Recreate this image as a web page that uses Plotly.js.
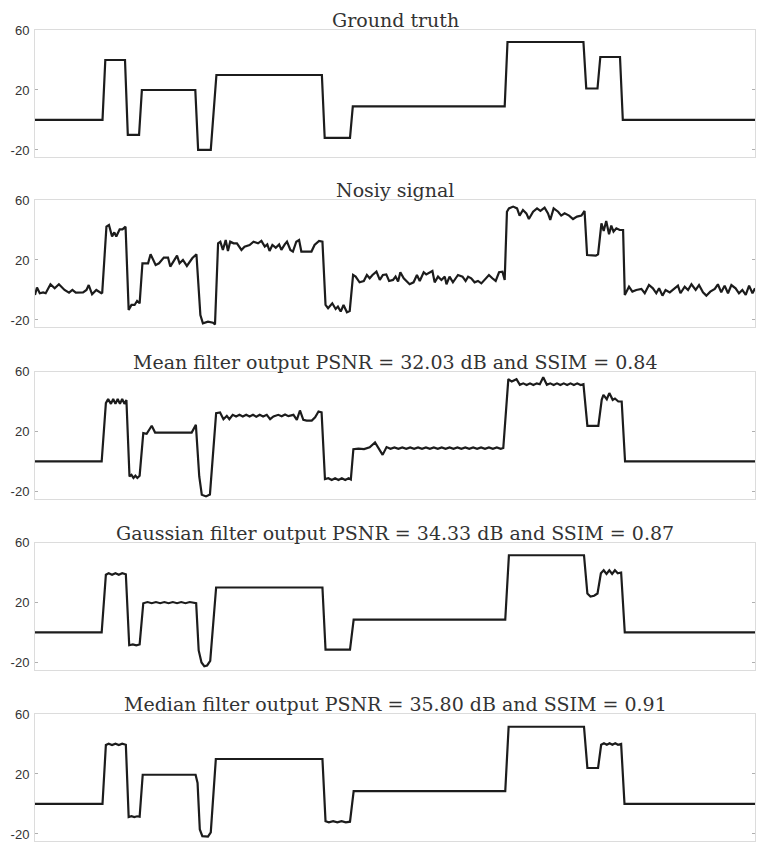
<!DOCTYPE html>
<html>
<head>
<meta charset="utf-8">
<script src="https://cdn.plot.ly/plotly-3.0.1.min.js"></script>
<style>
html,body{margin:0;padding:0;background:#fff;}
#chart{width:757px;height:842px;}
</style>
</head>
<body>
<div id="chart"></div>
<script>
// Panel titles
const titles = [
  "Ground truth",
  "Nosiy signal",
  "Mean filter output PSNR = 32.03 dB and SSIM = 0.84",
  "Gaussian filter output PSNR = 34.33 dB and SSIM = 0.87",
  "Median filter output PSNR = 35.80 dB and SSIM = 0.91"
];
const yTickVals = [-20, 20, 60];
const yTickText = ["-20", "20", "60"];

// Ground truth (vertices, sample index vs amplitude)
const gtX = [0,24,25,32,33,37,38,57,58,62.5,64.5,102,103,112,113,167,168,195,196,200,201,208,209,256];
const gtY = [0,0,40,40,-10,-10,20,20,-20,-20,30,30,-12,-12,9,9,52,52,21,21,42,42,0,0];

// Noisy signal
const noisyX = [0,0.7,1.7,2.9,3.8,5.5,7.0,8.5,10.5,12.1,13.3,14.5,17.1,18.3,19.1,20.3,21.8,23.6,23.9,25.4,26.3,27.4,28.2,28.9,30.1,31.1,32.2,
  33.3,34.3,35.4,36.3,37.2,38.2,40.2,41.1,42.9,44.1,45.8,47.3,48.1,50.5,51.4,52.6,54.0,55.9,57.4,58.8,59.7,61.5,63.3,64.0,
  65.1,65.9,66.8,67.8,68.6,69.4,70.6,71.8,73.4,74.5,76.3,77.7,79.3,80.5,81.7,82.6,83.4,84.4,85.6,86.8,87.6,88.8,89.6,90.8,91.7,92.9,93.9,94.7,96.5,98.3,99.4,101.0,102.2,
  103.3,104.2,105.7,106.9,107.7,108.7,109.7,110.9,111.9,113.1,114.0,115.4,116.9,118.0,119.0,120.0,121.4,122.6,123.7,124.9,125.9,127.3,
  128.2,129.1,129.9,131.1,133.2,134.6,135.8,136.8,138.2,139.1,140.3,141.3,142.1,143.3,144.5,145.7,146.3,147.4,148.6,150.4,152.0,153.1,154.0,155.1,156.3,157.5,158.7,160.2,161.4,162.6,163.8,165.0,166.2,167.0,
  167.8,168.5,170.0,171.4,172.3,173.5,174.7,175.6,177.1,178.5,179.7,181.2,182.4,183.2,184.4,186.0,187.1,188.3,189.9,191.3,192.7,194.3,195.4,
  196.3,197.8,199.4,200.2,201.4,202.2,203.1,204.1,204.9,205.7,206.7,207.9,209.1,
  209.7,211.2,212.4,213.8,215.6,216.8,218.3,219.7,220.9,221.9,223.1,224.2,225.7,227.4,228.6,229.5,231.0,232.2,233.4,234.9,236.1,237.5,238.7,240.1,241.7,242.8,244.0,245.2,246.4,247.6,249.1,250.3,251.5,252.7,253.9,255.1,256];
const noisyY = [-3.3,1.6,-2.2,-1.6,-2.2,3.8,1.1,3.8,0,-1.8,0,-1.8,-1.6,0,3.3,-2.9,0,-2.2,-1.8,42.2,43.3,35.6,38.4,35.6,40.4,40.4,42.2,
  -13.3,-10,-10,-7.3,-8.9,17.8,17.8,23.8,16.7,17.8,21.6,21.6,15.6,22.9,17.8,20,16,21.1,23.8,-16.7,-22.2,-21.1,-21.8,-23,
  31.1,32.2,26.7,33.3,26,32.2,31.1,31.1,26.7,28.9,30,32.2,31.1,32.7,28.9,30.4,26,30,28.2,30.4,26.7,30.4,32.2,26.7,25.6,32.2,33.3,25.6,25.6,25.6,30,32.7,32.2,
  -10,-12.2,-8.9,-12.7,-11.1,-14.4,-10,-14.9,-14,10,8.9,5.1,6,10,7.8,10,12.2,6.7,10,10.4,6,6.7,
  8.9,5.6,11.8,7.8,3.8,5.1,10,6,11.8,10.4,11.8,12.7,5.1,8.9,6.7,8.9,3.8,8.9,5.1,10,8.9,6,8.9,7.8,5.1,6,4.4,7.8,10,7.8,6,11.8,12.2,6.7,
  52.2,54.4,55.6,54.4,49.6,53.3,51.1,47.3,52.2,54.4,52.7,54.9,51.1,46.7,54.4,52.2,49.6,51.1,49.6,47.3,48.9,49.6,52.7,
  23.3,23.3,22.9,23.8,44.4,39.3,46,37.1,42.9,38.9,41.1,40,40,
  -3.3,2.2,-1.1,0,0.7,-2.2,3.3,1.1,-2.2,1.1,-3.8,0,-1.6,1.1,2.9,-2.2,2.2,0,3.8,0,3.3,-1.6,-3.8,-1.1,0.7,3.8,-1.6,2.9,-2.2,3.3,1.1,-2.2,0,-3.3,2.9,-2.2,1.1];

// Mean filter output
const meanX = [0,23.7,25.2,26.0,27.0,27.8,28.6,29.4,30.2,31.0,31.8,32.5,33.6,34.3,35.0,35.7,36.4,37.2,38.5,39.7,41.5,42.7,55.7,57.2,58.4,59.3,60.8,62.2,
  64.4,65.8,67.0,68.2,69.1,70.3,71.5,72.7,73.9,75.1,76.3,77.5,78.7,79.9,81.1,82.4,83.6,84.8,86.5,87.7,88.9,90.1,91.9,93.1,94.2,95.4,96.6,98.4,99.6,100.8,101.9,
  103.1,104.3,105.5,106.7,107.9,109.1,110.3,111.5,112.3,113.2,115.0,117.0,119.0,120.9,122.3,123.6,125.0,126.4,127.8,129.2,130.6,132.0,133.4,134.8,136.2,137.6,139.0,140.4,141.8,143.2,144.6,146.0,147.4,148.8,150.2,151.6,153.0,154.4,155.8,157.2,158.6,160.0,161.4,162.8,164.2,165.6,166.5,
  168.3,169.5,171.2,172.4,173.6,174.8,176.0,177.2,178.4,179.5,180.7,182.0,183.2,184.4,185.6,186.8,188.0,189.2,190.4,191.6,192.8,194.0,195.0,196.4,200.3,201.5,202.1,203.3,204.2,205.4,206.2,207.4,208.6,209.8,256];
const meanY = [0,0,38.9,41.6,38.4,41.6,38.4,41.6,38.4,41.6,38.4,41,-10,-9,-11,-9.5,-11,-9.5,18.9,18.4,23.8,19.3,19.3,24.4,-10,-22.2,-23.3,-22,
  32.2,32.7,28.2,30.4,28.2,31.1,30,31.1,30,31.1,30,31.1,29.8,31.1,30,31.1,28.2,30,31.1,30.2,31.3,30.2,31.1,27.8,34,27.8,27.3,27.3,29.5,33.3,32.7,
  -11.8,-11.2,-12.4,-11.2,-12.4,-11.2,-12.4,-11.2,-12,8.2,8.6,8.2,9.4,12.7,8.5,4.4,9.6,8.4,9.4,8.4,9.4,8.4,9.4,8.4,9.4,8.4,9.4,8.4,9.4,8.4,9.4,8.4,9.4,8.4,9.4,8.4,9.4,8.4,9.4,8.4,9.4,8.4,9.4,8.4,9.4,8.4,9,
  54.9,53.3,54.9,51.1,52.1,51,52.1,51,52.1,51.5,56.2,51.1,52.1,51,52.1,51,52.1,51,52.1,51,52.1,51,51.5,23.8,23.8,41.1,44.4,41.5,45.6,41.1,42,40,40,0,0];

// Gaussian filter output
const gaussX = [0,23.7,25.2,26.2,27.4,28.6,29.8,31.0,32.3,33.5,34.8,36.0,37.2,38.5,40,41.5,43,44.5,46,47.5,49,50.5,52,53.5,55,56.5,57.3,58.2,59.2,60.2,61.2,62.3,64.4,
  102.2,103.3,112.0,113.3,167.2,168.5,195.2,196.4,197.5,198.8,200.0,201.2,202.2,203.2,204.2,205.2,206.2,207.2,208.4,209.7,256];
const gaussY = [0,0,38.5,39.5,38.5,39.5,38.5,39.5,38.8,-8.5,-8,-8.6,-8,19.5,20.3,19.5,20.3,19.5,20.3,19.5,20.3,19.5,20.3,19.5,20.3,19.5,19.5,-12,-20,-22.5,-22,-19,30,
  30,-11.5,-11.5,8.5,8.5,51.5,51.5,26,24,24.5,26,39.5,41.5,39,41.5,39,41.5,39.5,40,0,0];

// Median filter output
const medX = [0,24,25.2,26.2,27.4,28.6,29.8,31.0,32.3,33.3,34.3,35.3,36.3,37.2,38.3,57.1,57.8,58.6,59.5,61.5,62.5,64.3,102.2,103.3,104.5,106,107.5,109,110.5,112,113.3,167.2,168.4,195.2,196.4,200.2,201.3,202.3,203.3,204.3,205.3,206.3,207.3,208.4,209.6,256];
const medY = [0,0,39.3,40.2,39.3,40.2,39.3,40.2,39.5,-8.7,-8.2,-8.7,-8.2,-8.5,19.5,19.5,14,-17,-21.5,-21.8,-19,30,30,-11.5,-12.2,-11.5,-12.2,-11.5,-12.2,-11.8,8.5,8.5,51.5,51.5,24,24,39.5,40.5,39.5,40.5,39.5,40.5,39.5,40,0,0];

const seriesX = [gtX, noisyX, meanX, gaussX, medX];
const seriesY = [gtY, noisyY, meanY, gaussY, medY];

const H = 842;
const panels = [[30,157],[200,327],[371.5,498.5],[542.5,669.5],[714,841]];

const traces = [];
const layout = {
  width: 757, height: 842,
  margin: {l: 35, r: 2, t: 0, b: 0},
  paper_bgcolor: '#ffffff',
  plot_bgcolor: '#ffffff',
  showlegend: false,
  annotations: []
};

for (let i = 0; i < 5; i++) {
  const sfx = i === 0 ? '' : String(i + 1);
  traces.push({
    x: seriesX[i], y: seriesY[i],
    type: 'scatter', mode: 'lines',
    line: {color: '#1c1c1c', width: 2.2},
    xaxis: 'x' + sfx, yaxis: 'y' + sfx,
    hoverinfo: 'skip'
  });
  const top = panels[i][0], bot = panels[i][1];
  const dom = [1 - bot / H, 1 - top / H];
  layout['xaxis' + sfx] = {
    domain: [0, 1], range: [0, 256], anchor: 'y' + sfx,
    showline: true, mirror: true, linecolor: '#dcdcdc', linewidth: 1,
    showgrid: false, zeroline: false, showticklabels: false, ticks: ''
  };
  layout['yaxis' + sfx] = {
    domain: dom, range: [-24.7, 60], anchor: 'x' + sfx,
    tickmode: 'array', tickvals: yTickVals, ticktext: yTickText,
    ticks: 'inside', ticklen: 3, tickcolor: '#b0b0b0', tickwidth: 1,
    showline: true, mirror: 'ticks', linecolor: '#dcdcdc', linewidth: 1,
    showgrid: false, zeroline: false,
    tickfont: {family: 'Liberation Sans, Arial, sans-serif', size: 13, color: '#333333'},
    ticklabelstandoff: 2
  };
  layout.annotations.push({
    text: titles[i], xref: 'paper', yref: 'paper',
    x: 0.5, y: dom[1], xanchor: 'center', yanchor: 'bottom',
    yshift: -3, showarrow: false,
    font: {family: 'DejaVu Serif, serif', size: 19, color: '#333333'}
  });
}

Plotly.newPlot('chart', traces, layout, {staticPlot: true, displayModeBar: false});
</script>
</body>
</html>
